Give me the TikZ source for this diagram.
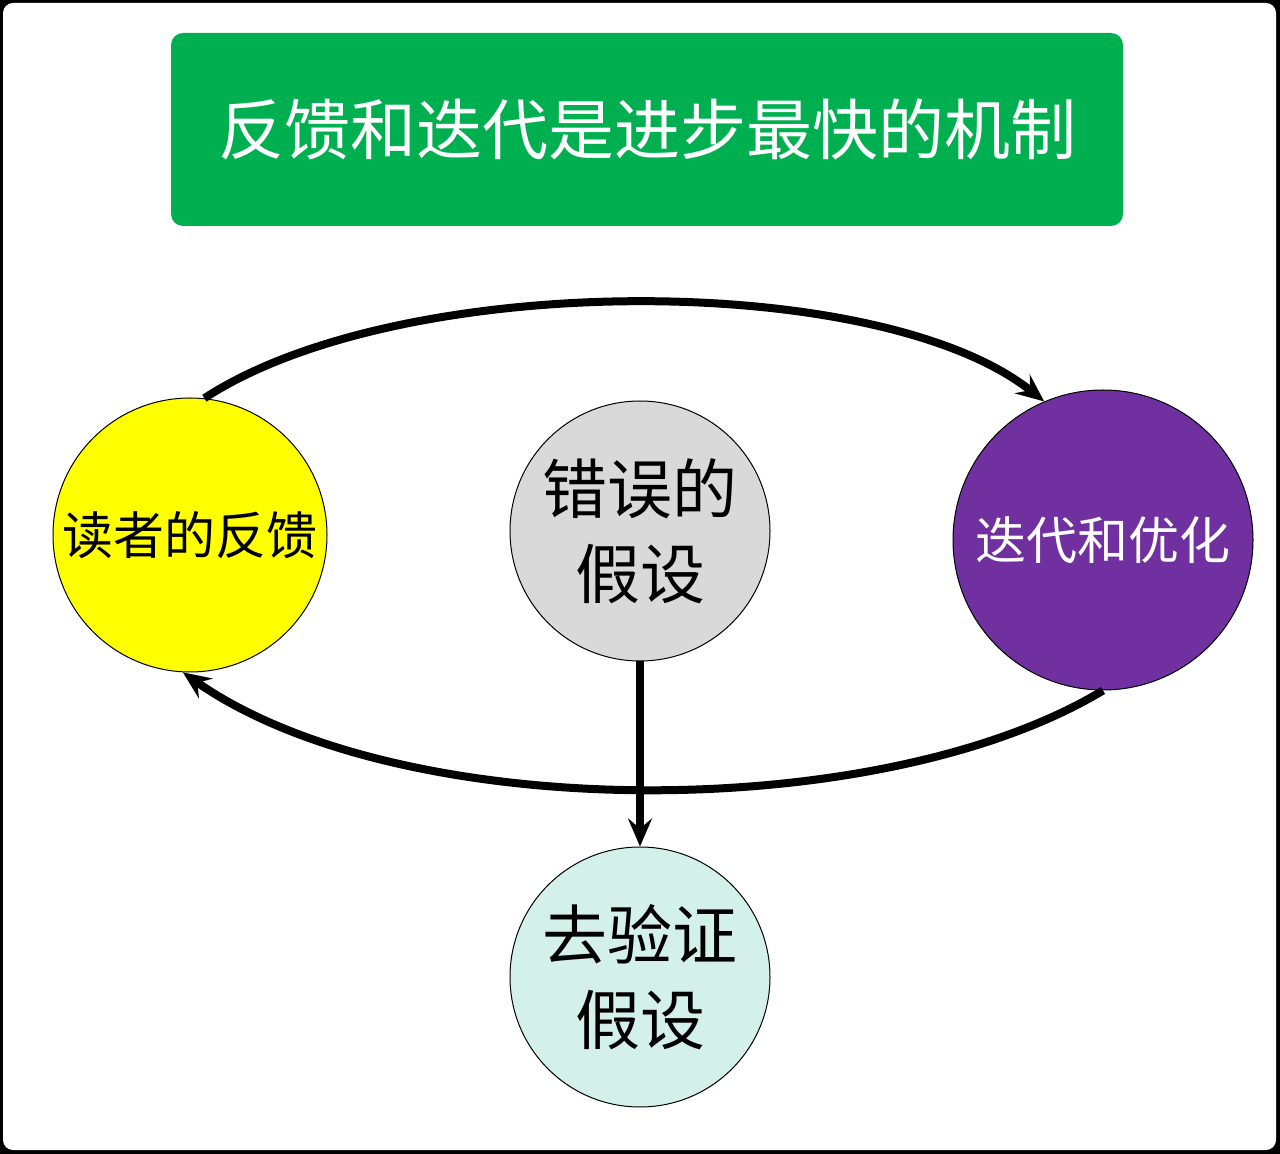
\documentclass[tikz,border=0pt]{standalone}
\usepackage{fontspec}
\setmainfont{Noto Sans CJK SC}
\usetikzlibrary{arrows.meta, positioning}
\definecolor{titlegreen}{HTML}{00B050}
\definecolor{ballpurple}{HTML}{7030A0}
\definecolor{ballgray}{HTML}{D9D9D9}
\definecolor{ballcyan}{HTML}{D3F0EB}
\definecolor{ballyellow}{HTML}{FFFF00}
\tikzset{
  titlebox/.style={fill=titlegreen, rounded corners=6pt, minimum width=476pt, minimum height=96.5pt,
    text=white, font=\fontsize{33pt}{40pt}\selectfont},
  ball/.style={circle, draw=black, line width=0.5pt, fill=#1, inner sep=0pt, align=center},
  arr/.style={-{Stealth[length=14pt, width=12pt, inset=5pt]}, line width=4pt},
}
\begin{document}
\begin{tikzpicture}[x=0.5pt, y=-0.5pt]
    \fill[black] (0,0) rectangle (1280,1154);
    \fill[white, rounded corners=5pt] (3,3) rectangle (1276,1150);
    \node[titlebox] (title) at (647,129.5) {反馈和迭代是进步最快的机制};
    \node[ball=ballyellow, minimum size=137pt, font=\fontsize{25.5pt}{30pt}\selectfont] (reader) at (190,535) {读者的反馈};
    \node[ball=ballgray, minimum size=130pt, font=\fontsize{32.5pt}{42.5pt}\selectfont] (wrong) at (640,531) {错误的\\假设};
    \node[ball=ballpurple, minimum size=150pt, text=white, font=\fontsize{25.5pt}{30pt}\selectfont] (iterate) at (1103,540) {迭代和优化};
    \node[ball=ballcyan, minimum size=130pt, font=\fontsize{32.5pt}{42.5pt}\selectfont] (verify) at (640,977) {去验证\\假设};
    % loop between feedback and iteration
    \draw[arr] (reader.84) .. controls (400,270) and (880,270) .. (iterate.113);
    \draw[arr] (iterate.270) .. controls (880,825) and (400,825) .. (reader.267);
    \draw[arr] (wrong.south) -- (verify.north);
\end{tikzpicture}
\end{document}
